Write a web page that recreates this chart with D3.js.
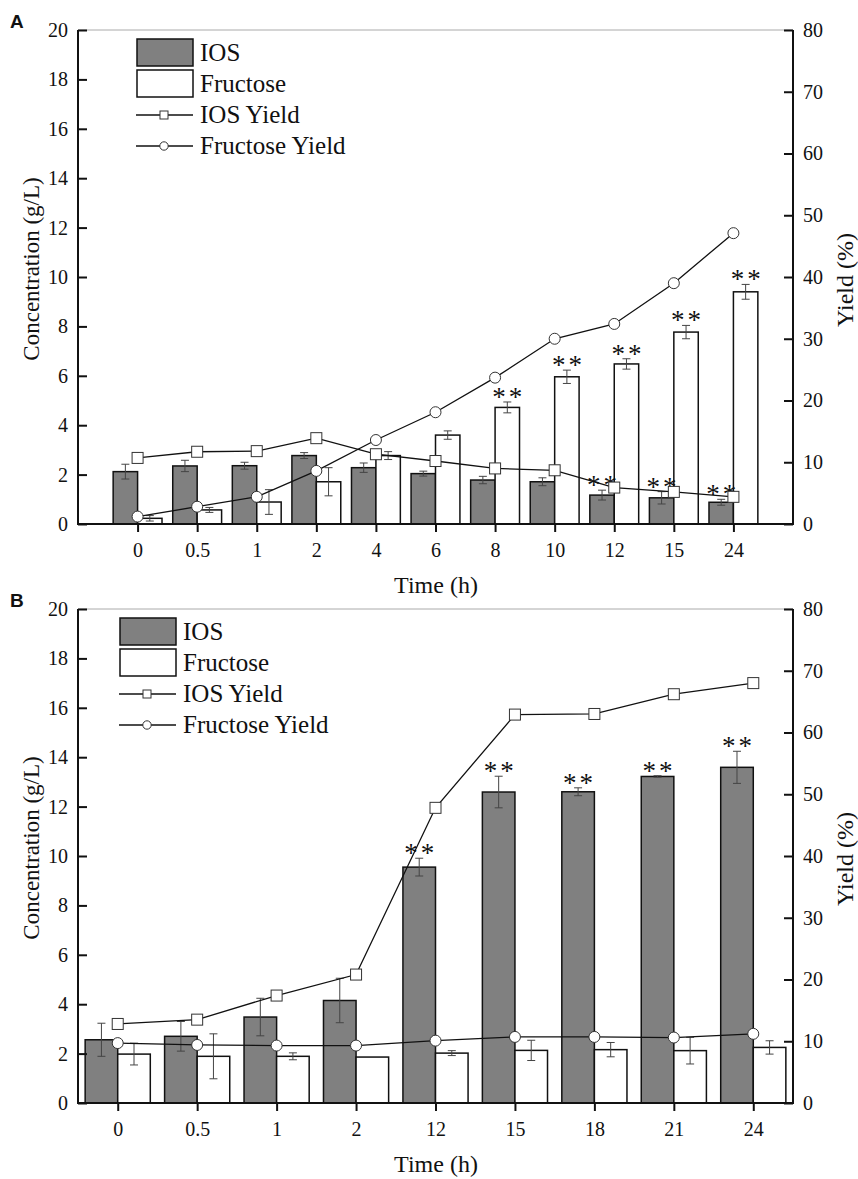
<!DOCTYPE html>
<html>
<head>
<meta charset="utf-8">
<script src="https://cdn.jsdelivr.net/npm/d3@7"></script>
<style>
  body { margin: 0; background: #fff; }
  svg text { font-family: "Liberation Serif", "Times New Roman", serif; fill: #111; }
  svg text.letter { font-family: "Liberation Sans", Arial, sans-serif; font-weight: bold; }
</style>
</head>
<body>
<script>
// ---- panel A data ----
var timesA = ["0", "0.5", "1", "2", "4", "6", "8", "10", "12", "15", "24"];
var iosA = [2.12, 2.35, 2.36, 2.77, 2.28, 2.04, 1.78, 1.71, 1.17, 1.06, 0.88];
var iosErrA = [0.30, 0.23, 0.14, 0.12, 0.19, 0.10, 0.15, 0.16, 0.20, 0.25, 0.12];
var fruA = [0.23, 0.57, 0.89, 1.71, 2.77, 3.60, 4.72, 5.96, 6.48, 7.77, 9.40];
var fruErrA = [0.11, 0.10, 0.50, 0.57, 0.16, 0.17, 0.22, 0.27, 0.21, 0.27, 0.30];
var iosYieldA = [10.7, 11.7, 11.8, 13.9, 11.3, 10.2, 9.0, 8.7, 5.9, 5.2, 4.4];
var fruYieldA = [1.2, 2.8, 4.4, 8.6, 13.6, 18.1, 23.7, 30.0, 32.4, 39.0, 47.1];
var starsIosA = ["12", "15", "24"];
var starsFruA = ["8", "10", "12", "15", "24"];

// ---- panel B data ----
var timesB = ["0", "0.5", "1", "2", "12", "15", "18", "21", "24"];
var iosB = [2.56, 2.70, 3.48, 4.15, 9.55, 12.59, 12.60, 13.22, 13.59];
var iosErrB = [0.67, 0.60, 0.76, 0.90, 0.36, 0.64, 0.16, 0.03, 0.65];
var fruB = [1.98, 1.89, 1.89, 1.86, 2.02, 2.13, 2.16, 2.12, 2.25];
var fruErrB = [0.44, 0.91, 0.14, 0.00, 0.10, 0.41, 0.29, 0.54, 0.27];
var iosYieldB = [12.8, 13.5, 17.4, 20.8, 47.8, 62.9, 63.0, 66.2, 68.0];
var fruYieldB = [9.7, 9.4, 9.3, 9.3, 10.1, 10.7, 10.7, 10.6, 11.2];
var starsIosB = ["12", "15", "18", "21", "24"];
var starsFruB = [];

var concTicks = [0, 2, 4, 6, 8, 10, 12, 14, 16, 18, 20];
var yieldTicks = [0, 10, 20, 30, 40, 50, 60, 70, 80];
var legendNames = ["IOS", "Fructose", "IOS Yield", "Fructose Yield"];

var width = 858, height = 1179;
var left = 78, right = 793;
var serif = '"Liberation Serif", "Times New Roman", serif';

var svg = d3.select("body").append("svg")
  .attr("width", width)
  .attr("height", height);

function drawPanel(p) {
  var g = svg.append("g");
  var top = p.top, bottom = p.top + 494;

  var x = d3.scalePoint().domain(p.times).range([left, right]).padding(p.pad);
  var y = d3.scaleLinear().domain([0, 20]).range([bottom, top]);
  var y2 = d3.scaleLinear().domain([0, 80]).range([bottom, top]);
  var barW = x.step() * 0.41;

  // top frame line
  g.append("line")
    .attr("x1", left).attr("x2", right)
    .attr("y1", top).attr("y2", top)
    .attr("stroke", "#aaa").attr("stroke-width", 1);

  // bars
  g.selectAll("rect.ios")
    .data(p.times)
    .enter()
    .append("rect")
    .attr("class", "ios")
    .attr("x", function(d) { return x(d) - barW; })
    .attr("y", function(d, i) { return y(p.ios[i]); })
    .attr("width", barW)
    .attr("height", function(d, i) { return bottom - y(p.ios[i]); })
    .attr("fill", "#808080")
    .attr("stroke", "#111")
    .attr("stroke-width", 1.5);

  g.selectAll("rect.fru")
    .data(p.times)
    .enter()
    .append("rect")
    .attr("class", "fru")
    .attr("x", function(d) { return x(d); })
    .attr("y", function(d, i) { return y(p.fru[i]); })
    .attr("width", barW)
    .attr("height", function(d, i) { return bottom - y(p.fru[i]); })
    .attr("fill", "#fff")
    .attr("stroke", "#111")
    .attr("stroke-width", 1.5);

  // error bars
  function errBars(vals, errs, offset) {
    p.times.forEach(function(t, i) {
      if (errs[i] <= 0) return;
      var cx = x(t) + offset;
      var y1 = y(vals[i] + errs[i]), y0 = y(vals[i] - errs[i]);
      g.append("line").attr("x1", cx).attr("x2", cx).attr("y1", y1).attr("y2", y0)
        .attr("stroke", "#444").attr("stroke-width", 1);
      [y1, y0].forEach(function(yy) {
        g.append("line").attr("x1", cx - 4).attr("x2", cx + 4).attr("y1", yy).attr("y2", yy)
          .attr("stroke", "#444").attr("stroke-width", 1);
      });
    });
  }
  errBars(p.ios, p.iosErr, -barW / 2);
  errBars(p.fru, p.fruErr, barW / 2);

  // significance stars
  function stars(list, vals, errs, offset) {
    list.forEach(function(t) {
      var i = p.times.indexOf(t);
      g.append("text")
        .attr("x", x(t) + offset + 1.5)
        .attr("y", y(vals[i] + errs[i]) + 4)
        .attr("text-anchor", "middle")
        .style("font-size", "27px")
        .style("letter-spacing", "3px")
        .text("**");
    });
  }
  stars(p.starsIos, p.ios, p.iosErr, -barW / 2);
  stars(p.starsFru, p.fru, p.fruErr, barW / 2);

  // yield lines
  var line = d3.line()
    .x(function(d, i) { return x(p.times[i]); })
    .y(function(d) { return y2(d); });

  g.append("path").datum(p.iosYield).attr("d", line)
    .attr("fill", "none").attr("stroke", "#111").attr("stroke-width", 1.3);
  g.append("path").datum(p.fruYield).attr("d", line)
    .attr("fill", "none").attr("stroke", "#111").attr("stroke-width", 1.3);

  g.selectAll("rect.sq")
    .data(p.iosYield)
    .enter()
    .append("rect")
    .attr("class", "sq")
    .attr("x", function(d, i) { return x(p.times[i]) - 5.5; })
    .attr("y", function(d) { return y2(d) - 5.5; })
    .attr("width", 11).attr("height", 11)
    .attr("fill", "#fff").attr("stroke", "#333").attr("stroke-width", 1);

  g.selectAll("circle.ci")
    .data(p.fruYield)
    .enter()
    .append("circle")
    .attr("class", "ci")
    .attr("cx", function(d, i) { return x(p.times[i]); })
    .attr("cy", function(d) { return y2(d); })
    .attr("r", 5.5)
    .attr("fill", "#fff").attr("stroke", "#333").attr("stroke-width", 1);

  // axes
  var axL = g.append("g").attr("transform", "translate(" + left + ",0)")
    .call(d3.axisLeft(y).tickValues(concTicks).tickSizeInner(-9).tickSizeOuter(0).tickPadding(10));
  var axR = g.append("g").attr("transform", "translate(" + right + ",0)")
    .call(d3.axisRight(y2).tickValues(yieldTicks).tickSizeInner(-9).tickSizeOuter(0).tickPadding(10));
  var axB = g.append("g").attr("transform", "translate(0," + bottom + ")")
    .call(d3.axisBottom(x).tickSizeInner(8).tickSizeOuter(0).tickPadding(11));

  [axL, axR, axB].forEach(function(a) {
    a.attr("font-family", serif).attr("font-size", 20);
    a.select(".domain").remove();
    a.selectAll(".tick line").attr("stroke", "#111").attr("stroke-width", 2);
    a.selectAll(".tick text").attr("fill", "#111");
  });

  g.append("line").attr("x1", left).attr("x2", left).attr("y1", top).attr("y2", bottom + 1)
    .attr("stroke", "#111").attr("stroke-width", 2);
  g.append("line").attr("x1", right).attr("x2", right).attr("y1", top).attr("y2", bottom + 1)
    .attr("stroke", "#111").attr("stroke-width", 2);
  g.append("line").attr("x1", left - 1).attr("x2", right + 1).attr("y1", bottom).attr("y2", bottom)
    .attr("stroke", "#111").attr("stroke-width", 2);

  // axis titles
  g.append("text")
    .attr("transform", "translate(39," + ((top + bottom) / 2 - 8) + ") rotate(-90)")
    .attr("text-anchor", "middle")
    .style("font-size", "23px")
    .text("Concentration (g/L)");
  g.append("text")
    .attr("transform", "translate(853," + ((top + bottom) / 2 + 3) + ") rotate(-90)")
    .attr("text-anchor", "middle")
    .style("font-size", "24px")
    .text("Yield (%)");
  g.append("text")
    .attr("x", 436).attr("y", bottom + 69)
    .attr("text-anchor", "middle")
    .style("font-size", "24px")
    .text("Time (h)");

  // panel letter
  g.append("text")
    .attr("class", "letter")
    .attr("x", 10).attr("y", top - 2)
    .style("font-size", "19px")
    .text(p.label);

  // legend
  var lx = p.legX, ly = top;
  g.append("rect").attr("x", lx).attr("y", ly + 9).attr("width", 56).attr("height", 27)
    .attr("fill", "#808080").attr("stroke", "#111").attr("stroke-width", 1.5);
  g.append("rect").attr("x", lx).attr("y", ly + 40).attr("width", 56).attr("height", 27)
    .attr("fill", "#fff").attr("stroke", "#111").attr("stroke-width", 1.5);
  [93, 124].forEach(function(b, k) {
    var yy = ly + b - 8;
    g.append("line").attr("x1", lx - 1).attr("x2", lx + 56).attr("y1", yy).attr("y2", yy)
      .attr("stroke", "#111").attr("stroke-width", 1.3);
    if (k === 0) {
      g.append("rect").attr("x", lx + 23).attr("y", yy - 4).attr("width", 8).attr("height", 8)
        .attr("fill", "#fff").attr("stroke", "#333").attr("stroke-width", 1);
    } else {
      g.append("circle").attr("cx", lx + 27).attr("cy", yy).attr("r", 4.2)
        .attr("fill", "#fff").attr("stroke", "#333").attr("stroke-width", 1);
    }
  });
  [31, 62, 93, 124].forEach(function(b, k) {
    g.append("text")
      .attr("x", lx + 63).attr("y", ly + b)
      .style("font-size", "25px")
      .text(legendNames[k]);
  });
}

drawPanel({
  label: "A", top: 30, pad: 1, legX: 137,
  times: timesA, ios: iosA, iosErr: iosErrA, fru: fruA, fruErr: fruErrA,
  iosYield: iosYieldA, fruYield: fruYieldA, starsIos: starsIosA, starsFru: starsFruA
});

drawPanel({
  label: "B", top: 609, pad: 0.5, legX: 120,
  times: timesB, ios: iosB, iosErr: iosErrB, fru: fruB, fruErr: fruErrB,
  iosYield: iosYieldB, fruYield: fruYieldB, starsIos: starsIosB, starsFru: starsFruB
});
</script>
</body>
</html>
